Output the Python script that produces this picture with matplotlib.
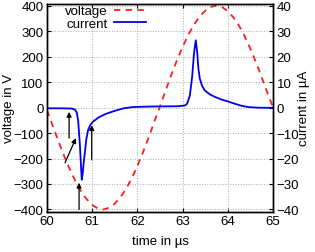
import matplotlib
matplotlib.use('Agg')
import matplotlib.pyplot as plt

plt.rcParams['font.family'] = ['Liberation Sans', 'DejaVu Sans']
plt.rcParams['font.size'] = 9.5

# -----------------------------
# data
# -----------------------------
volt_t = [60.0, 60.125, 60.25, 60.375, 60.5, 60.625, 60.75, 60.875, 61.0, 61.125,
          61.25, 61.375, 61.5, 61.625, 61.75, 61.875, 62.0, 62.125, 62.25, 62.375,
          62.5, 62.625, 62.75, 62.875, 63.0, 63.125, 63.25, 63.375, 63.5, 63.625,
          63.75, 63.875, 64.0, 64.125, 64.25, 64.375, 64.5, 64.625, 64.75, 64.875, 65.0]
volt_v = [-10, -70, -130, -188, -240, -287, -327, -359, -382, -396,
          -400, -393, -377, -352, -319, -278, -229, -175, -117, -55,
          5, 67, 128, 186, 238, 285, 325, 357, 380, 395,
          400, 394, 378, 353, 320, 279, 230, 176, 118, 57, 0]

curr_t = [60.0, 60.3, 60.55, 60.62, 60.66, 60.69, 60.71, 60.73, 60.75, 60.77,
          60.79, 60.81, 60.84, 60.87, 60.91, 60.96, 61.02, 61.15, 61.3, 61.5,
          61.7, 61.9, 62.3, 62.9, 63.05, 63.1, 63.16, 63.21, 63.25, 63.29,
          63.32, 63.35, 63.38, 63.43, 63.49, 63.6, 63.71, 63.85, 64.0, 64.15,
          64.3, 64.45, 64.6, 64.8, 65.0]
curr_a = [-0.3, -0.3, -0.4, -0.8, -2.0, -5.0, -10, -15, -22, -28.3,
          -26, -22, -17.5, -12.5, -8.8, -6.8, -5.5, -3.8, -2.5, -1.3,
          -0.3, 0.2, 0.4, 0.5, 0.8, 1.5, 4.8, 12, 21, 26.4,
          22, 15, 11.3, 8.5, 6.7, 5.2, 4.2, 3.2, 2.4, 1.5,
          0.7, 0.2, 0.0, -0.1, -0.1]

# arrows (tail -> head) in time / voltage coords
arrow_tails = [(60.49, -120), (60.40, -217), (60.99, -205), (60.71, -400)]
arrow_heads = [(60.49, -17), (60.64, -120), (60.99, -69), (60.71, -295)]

xticks = [60, 61, 62, 63, 64, 65]
vticks = [-400, -300, -200, -100, 0, 100, 200, 300, 400]
aticks = [-40, -30, -20, -10, 0, 10, 20, 30, 40]

# -----------------------------
# plot
# -----------------------------
fig = plt.figure(figsize=(3.15, 2.53), dpi=100)
ax = fig.add_axes([0.149, 0.16, 0.718, 0.822])
ax2 = ax.twinx()

lv, = ax.plot(volt_t, volt_v, color='#ee2222', lw=1.3, dashes=(3.5, 3))
lc, = ax2.plot(curr_t, curr_a, color='#0000ee', lw=1.3)

for tail, head in zip(arrow_tails, arrow_heads):
    ax.annotate('', xy=head, xytext=tail,
                arrowprops=dict(arrowstyle='-|>', color='black', lw=0.9,
                                mutation_scale=7, shrinkA=0, shrinkB=0))

ax.set_xlim(60, 65)
ax.set_ylim(-408, 408)
ax2.set_ylim(-40.8, 40.8)
ax.set_xticks(xticks)
ax.set_yticks(vticks)
ax2.set_yticks(aticks)

ax.grid(True, color='#aaaaaa', linestyle=':', lw=0.7)
ax.tick_params(direction='in', length=3, top=True, pad=2.5)
ax2.tick_params(direction='in', length=3, pad=2.5)
for a in (ax, ax2):
    for s in a.spines.values():
        s.set_linewidth(1.0)

ax.set_xlabel('time in µs', labelpad=6)
ax.set_ylabel('voltage in V')
ax.yaxis.set_label_coords(-0.14, 0.5)
ax2.set_ylabel('current in µA')
ax2.yaxis.set_label_coords(1.112, 0.5)

ax.legend([lv, lc], ['voltage', 'current'], loc='upper left', frameon=False,
          markerfirst=False, handlelength=2.4, handletextpad=0.5,
          borderaxespad=0.1, labelspacing=0.05, bbox_to_anchor=(0.05, 1.025))

fig.savefig('out.png', dpi=100)
